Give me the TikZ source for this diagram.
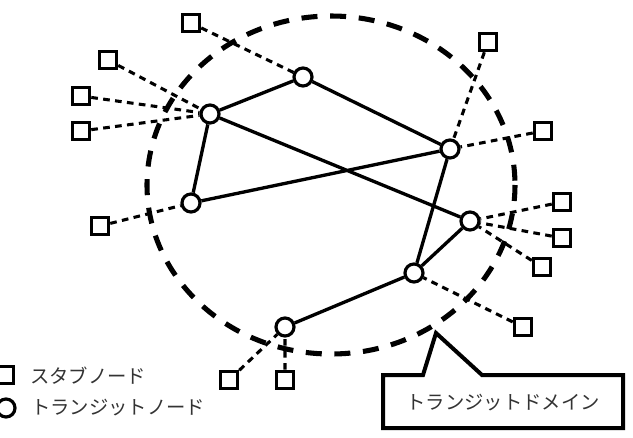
\documentclass[tikz,border=0pt]{standalone}
\usepackage{fontspec}
\newfontfamily\jpfont{Noto Sans CJK JP}
\usetikzlibrary{positioning}
\definecolor{ink}{HTML}{000000}
\definecolor{labelink}{HTML}{333333}

\begin{document}
\begin{tikzpicture}[x=0.75pt,y=-0.75pt,
    transit/.style={circle,draw=ink,fill=white,line width=2.4pt,minimum size=13.5pt,inner sep=0pt},
    stub/.style={rectangle,draw=ink,fill=white,line width=2.4pt,minimum size=13pt,inner sep=0pt},
    link/.style={ink,line width=2.5pt},
    stublink/.style={ink,line width=2.3pt,dash pattern=on 5pt off 4pt},
    jptext/.style={color=labelink,font=\jpfont\fontsize{14.5}{17}\selectfont,inner sep=0pt}]
        \useasboundingbox (0,0) rectangle (633,437);
        % transit domain
        \draw[ink,line width=3.8pt,dash pattern=on 12pt off 9.5pt] (331,185) ellipse [x radius=184,y radius=169];
        % transit nodes
        \node[transit] (ta) at (303,77) {};
        \node[transit] (tb) at (210,114) {};
        \node[transit] (tc) at (450,149) {};
        \node[transit] (td) at (191,203) {};
        \node[transit] (te) at (470,221) {};
        \node[transit] (tf) at (414,273) {};
        \node[transit] (tg) at (285,327) {};
        % stub nodes
        \node[stub] (s1) at (191,23) {};
        \node[stub] (s2) at (108,60) {};
        \node[stub] (s3) at (81,96) {};
        \node[stub] (s4) at (81,131) {};
        \node[stub] (s5) at (100,226) {};
        \node[stub] (s6) at (488,42) {};
        \node[stub] (s7) at (543,131) {};
        \node[stub] (s8) at (562,202) {};
        \node[stub] (s9) at (562,238) {};
        \node[stub] (s10) at (542,267) {};
        \node[stub] (s11) at (523,327) {};
        \node[stub] (s12) at (229,380) {};
        \node[stub] (s13) at (285,380) {};
        % stub links
        \draw[stublink] (s1) -- (ta) (s2) -- (tb) (s3) -- (tb) (s4) -- (tb) (s5) -- (td)
          (s6) -- (tc) (s7) -- (tc) (s8) -- (te) (s9) -- (te) (s10) -- (te)
          (s11) -- (tf) (s12) -- (tg) (s13) -- (tg);
        % transit links
        \draw[link] (tb) -- (ta) -- (tc) (tb) -- (te) (tb) -- (td) -- (tc) -- (tf) -- (te) (tf) -- (tg);
        % legend
        \node[stub] (keystub) at (5,375) {};
        \node[jptext,anchor=west] (keystubtext) at (30,376) {スタブノード};
        \node[transit] (keytransit) at (6,408) {};
        \node[jptext,anchor=west] (keytransittext) at (31,408) {トランジットノード};
        % callout
        \draw[ink,line width=3pt,line join=miter] (383,375) -- (423,375) -- (436,333) -- (482,375)
          -- (623,375) -- (623,428) -- (383,428) -- cycle;
        \node[jptext] (domlabel) at (503,403) {トランジットドメイン};
\end{tikzpicture}
\end{document}
